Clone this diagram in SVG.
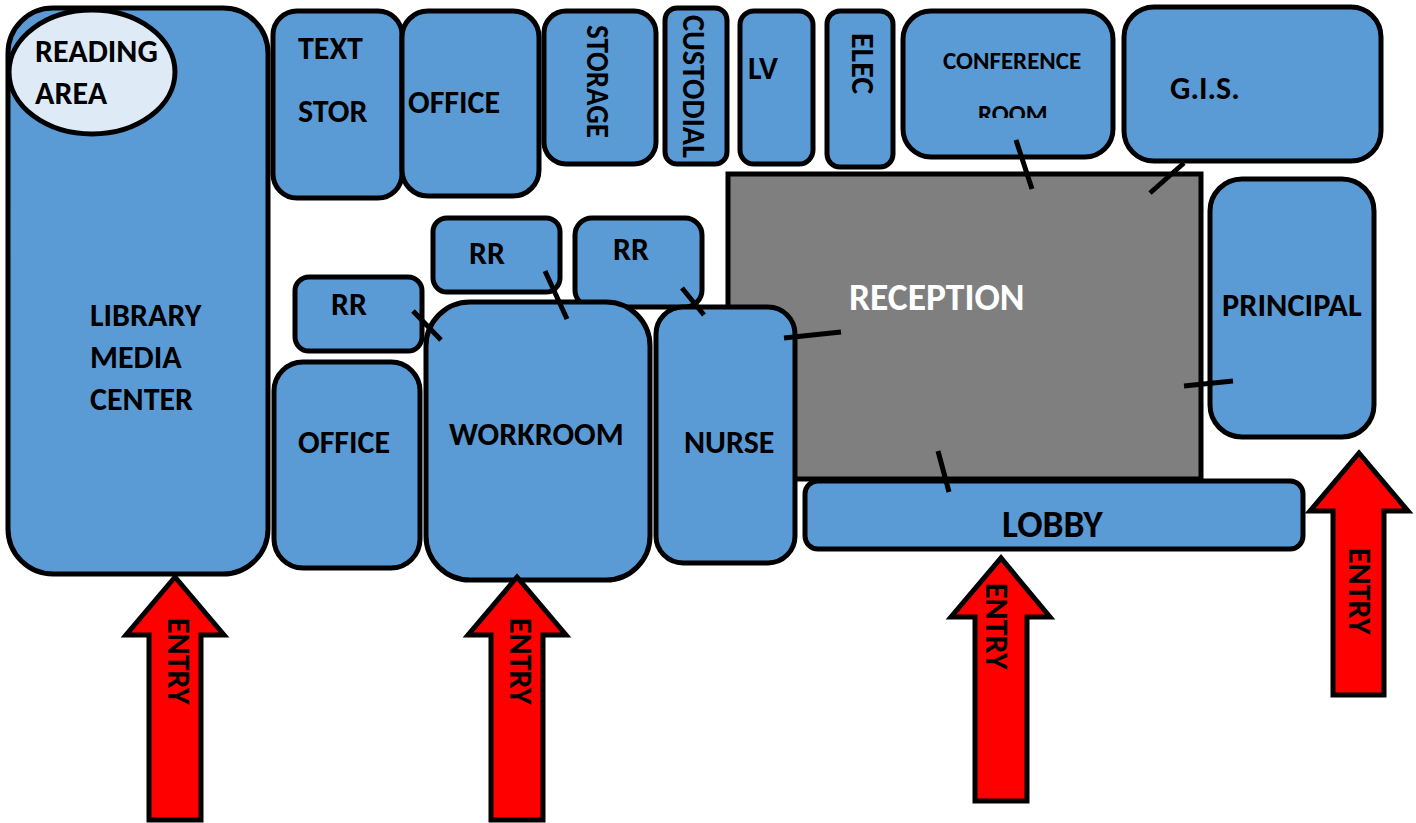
<svg xmlns="http://www.w3.org/2000/svg" width="1416" height="823" viewBox="0 0 1416 823">
<style>
.r{fill:#5b9bd5;stroke:#000;stroke-width:5}
.t{font-family:"Carlito","Liberation Sans",sans-serif;font-weight:700;font-size:32px;fill:#000}
.a{fill:#ff0000;stroke:#000;stroke-width:5}
.l{stroke:#000;stroke-width:5;fill:none}
</style>
<defs><clipPath id="c"><rect x="960" y="90" width="110" height="28"/></clipPath></defs>
<rect width="1416" height="823" fill="#fff"/>
<g id="reception"><rect x="728" y="174" width="473" height="305" fill="#7f7f7f" stroke="#000" stroke-width="5"/><text x="849" y="310" class="t" style="font-size:37.5px;fill:#fff">RECEPTION</text></g>
<g id="library"><rect class="r" x="8" y="8" width="260" height="566" rx="45"/><text class="t" x="90" y="326">LIBRARY</text><text class="t" x="90" y="368">MEDIA</text><text class="t" x="90" y="410">CENTER</text></g>
<g id="reading"><ellipse cx="92" cy="72" rx="83" ry="62" fill="#deebf7" stroke="#000" stroke-width="5"/><text class="t" x="35" y="62">READING</text><text class="t" x="35" y="104">AREA</text></g>
<g id="text-stor"><rect class="r" x="273" y="11" width="129" height="187" rx="24"/><text class="t" x="298" y="59">TEXT</text><text class="t" x="298" y="122">STOR</text></g>
<g id="office1"><rect class="r" x="402" y="11" width="137" height="185" rx="26"/><text class="t" x="408" y="113">OFFICE</text></g>
<g id="storage"><rect class="r" x="544" y="11" width="112" height="153" rx="22"/><text class="t" textLength="113" lengthAdjust="spacingAndGlyphs" transform="translate(587,25) rotate(90)">STORAGE</text></g>
<g id="custodial"><rect class="r" x="665" y="8" width="62" height="156" rx="12"/><text class="t" textLength="143" lengthAdjust="spacingAndGlyphs" transform="translate(683,15) rotate(90)">CUSTODIAL</text></g>
<g id="lv"><rect class="r" x="740" y="11" width="73" height="153" rx="14"/><text class="t" x="748" y="79">LV</text></g>
<g id="elec"><rect class="r" x="827" y="11" width="66" height="156" rx="13"/><text class="t" transform="translate(852,33) rotate(90)">ELEC</text></g>
<g id="conference"><rect class="r" x="903" y="11" width="210" height="146" rx="28"/><text class="t" style="font-size:25px" x="943" y="69">CONFERENCE</text><text class="t" style="font-size:25px" x="978" y="122" clip-path="url(#c)">ROOM</text></g>
<g id="gis"><rect class="r" x="1124" y="7" width="257" height="154" rx="30"/><text class="t" x="1170" y="99">G.I.S.</text></g>
<g id="principal"><rect class="r" x="1210" y="179" width="164" height="258" rx="32"/><text class="t" style="font-size:32.4px" x="1222" y="316">PRINCIPAL</text></g>
<g id="rr1"><rect class="r" x="433" y="218" width="127" height="74" rx="14"/><text class="t" x="469" y="264">RR</text></g>
<g id="rr2"><rect class="r" x="575" y="218" width="127" height="89" rx="17"/><text class="t" x="613" y="260">RR</text></g>
<g id="rr3"><rect class="r" x="295" y="277" width="127" height="74" rx="14"/><text class="t" x="331" y="315">RR</text></g>
<g id="office2"><rect class="r" x="274" y="362" width="146" height="206" rx="29"/><text class="t" x="298" y="453">OFFICE</text></g>
<g id="workroom"><rect class="r" x="426" y="302" width="224" height="278" rx="44"/><text class="t" x="449" y="445">WORKROOM</text></g>
<g id="nurse"><rect class="r" x="656" y="307" width="139" height="256" rx="27"/><text class="t" x="684" y="453">NURSE</text></g>
<g id="lobby"><rect class="r" x="805" y="481" width="498" height="68" rx="13"/><text class="t" style="font-size:37.5px" x="1002" y="537">LOBBY</text></g>
<g id="connectors">
<path class="l" d="M1016 140L1032 189M1184 163L1150 193M545 271L567 319M682 288L704 315M413 311L441 340M784 338L841 332M1184 386L1233 381M938 451L949 492"/>
</g>
<g id="entry1"><path class="a" d="M149 820V635H126L175 577L224 635H201V820Z"/><text class="t" transform="translate(168,618) rotate(90)">ENTRY</text></g>
<g id="entry2"><path class="a" d="M491 820V635H468L517 577L566 635H543V820Z"/><text class="t" transform="translate(510,618) rotate(90)">ENTRY</text></g>
<g id="entry3"><path class="a" d="M975 801V617H951L1001 558L1050 617H1027V801Z"/><text class="t" transform="translate(986,583) rotate(90)">ENTRY</text></g>
<g id="entry4"><path class="a" d="M1333 695V511H1310L1359 453L1408 511H1384V695Z"/><text class="t" transform="translate(1349,548) rotate(90)">ENTRY</text></g>
</svg>
